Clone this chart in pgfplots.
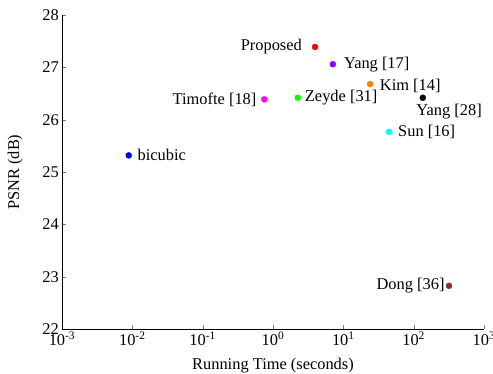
\documentclass[border=0pt]{standalone}
\usepackage{fontspec}
\setmainfont{Liberation Serif}
\usepackage{pgfplots}
\pgfplotsset{compat=1.18}
\definecolor{cprop}{rgb}{1,0,0}
\definecolor{cyang}{rgb}{0.55,0,1}
\definecolor{ckim}{rgb}{1,0.5,0}
\definecolor{ctim}{rgb}{1,0,1}
\definecolor{czey}{rgb}{0,1,0}
\definecolor{csun}{rgb}{0,1,1}
\definecolor{cbic}{rgb}{0,0,1}
\definecolor{cdong}{rgb}{0.55,0.18,0.18}
\newcommand{\fs}{\fontsize{16.4}{19}\selectfont}
\begin{document}
\fs
\begin{tikzpicture}
\begin{axis}[
  scale only axis, width=422pt, height=314.3pt,
  xmode=log, xmin=0.001, xmax=1000, ymin=22, ymax=28,
  axis x line*=bottom, axis y line*=left,
  xtick={0.001,0.01,0.1,1,10,100,1000},
  xticklabels={10\textsuperscript{-3},10\textsuperscript{-2},10\textsuperscript{-1},10\textsuperscript{0},10\textsuperscript{1},10\textsuperscript{2},10\textsuperscript{3}},
  xminorticks=false,
  ytick={22,23,24,25,26,27,28},
  tick align=inside, major tick length=4pt,
  /pgf/number format/assume math mode=true,
  tick label style={font=\fs},
  label style={font=\fs},
  xticklabel style={inner sep=1pt, yshift=-1pt},
  yticklabel style={inner sep=1pt, xshift=-2pt},
  xlabel={Running Time (seconds)},
  ylabel={PSNR (dB)},
  xlabel style={at={(axis description cs:0.5,-0.129)}, anchor=base},
  ylabel style={at={(axis description cs:-0.111,0.5)}, anchor=center},
  every node near coord/.style={},
  clip=false,
]
\addplot[only marks, mark=*, mark size=3pt, color=cprop] coordinates {(3.96,27.39)}
  node[anchor=east, inner sep=0pt, xshift=-13pt, font=\fs, text=black] {Proposed};
\addplot[only marks, mark=*, mark size=3pt, color=cyang] coordinates {(7.1,27.06)}
  node[anchor=west, inner sep=0pt, xshift=11pt, font=\fs, text=black] {Yang [17]};
\addplot[only marks, mark=*, mark size=3pt, color=ckim] coordinates {(24,26.68)}
  node[anchor=west, inner sep=0pt, xshift=9.7pt, yshift=-2pt, font=\fs, text=black] {Kim [14]};
\addplot[only marks, mark=*, mark size=3pt, color=ctim] coordinates {(0.75,26.39)}
  node[anchor=east, inner sep=0pt, xshift=-7.6pt, font=\fs, text=black] {Timofte [18]};
\addplot[only marks, mark=*, mark size=3pt, color=czey] coordinates {(2.25,26.42)}
  node[anchor=west, inner sep=0pt, xshift=7pt, font=\fs, text=black] {Zeyde [31]};
\addplot[only marks, mark=*, mark size=3pt, color=black] coordinates {(135,26.42)}
  node[anchor=north west, inner sep=0pt, xshift=-6.6pt, yshift=-6pt, font=\fs, text=black] {Yang [28]};
\addplot[only marks, mark=*, mark size=3pt, color=csun] coordinates {(44.6,25.77)}
  node[anchor=west, inner sep=0pt, xshift=9pt, font=\fs, text=black] {Sun [16]};
\addplot[only marks, mark=*, mark size=3pt, color=cbic] coordinates {(0.0089,25.32)}
  node[anchor=west, inner sep=0pt, xshift=8.7pt, font=\fs, text=black] {bicubic};
\addplot[only marks, mark=*, mark size=3pt, color=cdong] coordinates {(318,22.83)}
  node[anchor=east, inner sep=0pt, xshift=-4.3pt, font=\fs, text=black] {Dong [36]};
\end{axis}
\pgfresetboundingbox
\path (current axis.south west) ++(-62pt,-44.7pt) rectangle ++(493pt,374pt);
\end{tikzpicture}
\end{document}
